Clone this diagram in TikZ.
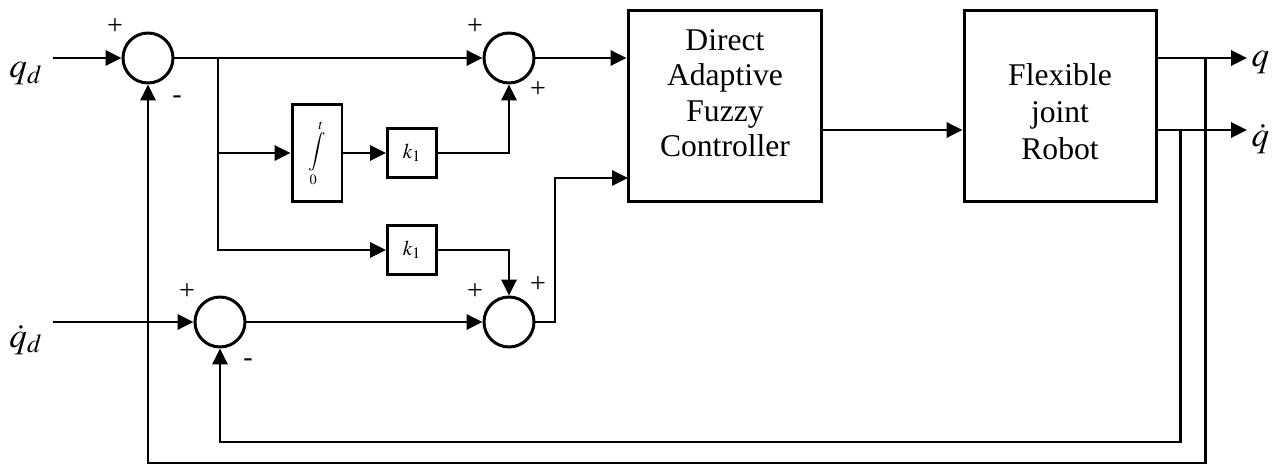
\documentclass[tikz,border=0pt]{standalone}
\usepackage{mathptmx}
\usepackage{fontspec}
\setmainfont{Liberation Serif}
\usetikzlibrary{arrows.meta}

\tikzset{
  sumnode/.style={draw,circle,minimum size=1cm,inner sep=0pt},
  blockbox/.style={draw,rectangle,inner sep=0pt},
  gainbox/.style={blockbox,minimum size=0.98cm,font=\fontsize{12}{12}\selectfont},
  sgn/.style={font=\fontsize{16}{16}\selectfont,inner sep=0pt},
  sig/.style={font=\fontsize{20}{20}\selectfont,inner sep=0pt,anchor=base west},
  bigtxt/.style={align=center,inner sep=0pt}
}

\begin{document}
\begin{tikzpicture}[x=0.02cm,y=-0.02cm,line width=1.7pt,>={Triangle[length=9pt,width=8.5pt]}]
\useasboundingbox (0,0) rectangle (1286,466);
% summing junctions
\node[sumnode] (s1) at (148,58) {};
\node[sumnode] (s2) at (509,58) {};
\node[sumnode] (s3) at (220,322) {};
\node[sumnode] (s4) at (509,322) {};
% blocks
\node[blockbox,minimum width=1cm,minimum height=1.94cm,font=\fontsize{11}{11}\selectfont] (integ) at (317,153) {$\displaystyle\int\limits_0^t$};
\node[gainbox] (kA) at (412,153) {$k_1$};
\node[gainbox] (kB) at (412,250) {$k_1$};
\node[blockbox,minimum width=3.88cm,minimum height=3.84cm] (ctrl) at (725,106) {};
\node[bigtxt,font=\fontsize{18}{20.2}\selectfont] (ctrltxt) at (725,93) {Direct\\Adaptive\\Fuzzy\\Controller};
\node[blockbox,minimum width=3.86cm,minimum height=3.84cm] (robot) at (1060.5,106) {};
\node[bigtxt,font=\fontsize{18}{21}\selectfont] (robottxt) at (1060,112) {Flexible\\joint\\Robot};
% signals
\node[sig] (qd) at (8,78) {$q_d$};
\node[sig] (dqd) at (8,347) {$\dot{q}_d$};
\node[sig] (q) at (1250,67) {$q$};
\node[sig] (dq) at (1250,147) {$\dot{q}$};
% signs
\node[sgn] (p1) at (115,27) {+};
\node[sgn] (m1) at (177,100) {-};
\node[sgn] (p2) at (475,27) {+};
\node[sgn] (p3) at (538,90) {+};
\node[sgn] (p4) at (187,292) {+};
\node[sgn] (m2) at (248,363) {-};
\node[sgn] (p5) at (475,292) {+};
\node[sgn] (p6) at (538,285) {+};
% points
\coordinate (in1) at (53,58);
\coordinate (in2) at (53,322);
\coordinate (br) at (218,58);
\coordinate (cin) at (628,178);
\coordinate (cout) at (822,130);
\coordinate (out1) at (1247,58);
\coordinate (out2) at (1247,130);
\coordinate (fb1) at (1205,58);
\coordinate (fb1b) at (1205,463);
\coordinate (fb2) at (1180,130);
\coordinate (fb2b) at (1180,442);
% connections
\draw[->] (in1) -- (s1);
\draw[->] (s1) -- (s2);
\draw[->] (br) |- (kB);
\draw[->] (br |- integ) -- (integ);
\draw[->] (integ) -- (kA);
\draw[->] (kA) -| (s2);
\draw[->] (kB) -| (s4);
\draw[->] (s2) -- (s2 -| ctrl.west);
\draw[->] (in2) -- (s3);
\draw[->] (s3) -- (s4);
\draw[->] (s4) -- ++(46,0) |- (cin);
\draw[->] (cout) -- (cout -| robot.west);
\draw[->] (robot.east |- out1) -- (out1);
\draw[->] (robot.east |- out2) -- (out2);
\draw[->] (fb1) -- (fb1b) -| (s1);
\draw[->] (fb2) -- (fb2b) -| (s3);
\end{tikzpicture}
\end{document}
